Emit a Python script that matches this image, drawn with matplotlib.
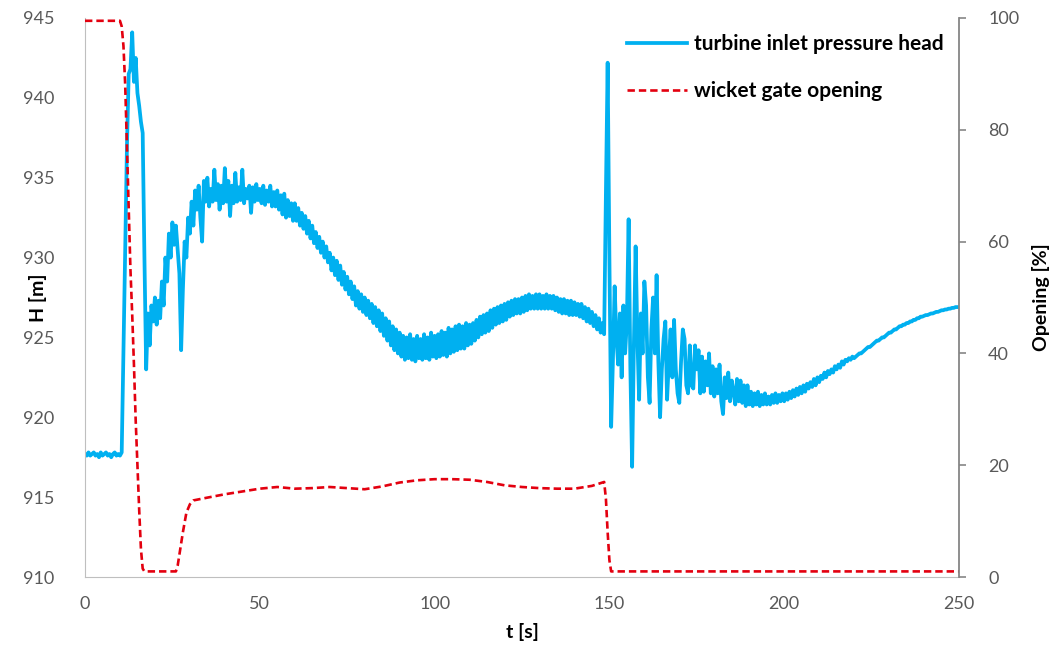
import numpy as np
import matplotlib.pyplot as plt

plt.rcParams["font.family"] = ["Lato", "DejaVu Sans"]

# turbine inlet pressure head, sampled every 0.5 s from 0 to 250 s
t_head = np.arange(0, 250.5, 0.5)
head = [
    # 0 - 9.5
    917.7, 917.6, 917.8, 917.6, 917.7, 917.8, 917.6, 917.7, 917.5, 917.8,
    917.6, 917.7, 917.8, 917.6, 917.7, 917.5, 917.7, 917.8, 917.6, 917.7,
    # 10 - 19.5
    917.6, 917.8, 924.0, 930.5, 937.0, 941.5, 941.8, 944.1, 941.0, 942.5,
    940.3, 939.5, 938.5, 937.8, 930.0, 923.0, 926.5, 924.5, 927.0, 926.0,
    # 20 - 29.5
    927.5, 925.8, 927.3, 926.2, 928.5, 927.0, 930.0, 928.5, 931.5, 930.0,
    932.2, 930.8, 932.0, 930.5, 929.0, 924.2, 928.0, 931.0, 930.0, 932.5,
    # 30 - 39.5
    931.5, 933.5, 932.0, 934.2, 933.0, 934.5, 932.5, 931.0, 934.8, 933.5,
    935.0, 933.2, 934.3, 933.5, 935.5, 933.6, 934.6, 933.0, 934.5, 933.4,
    # 40 - 49.5
    935.6, 933.5, 934.8, 932.6, 934.5, 933.4, 935.3, 933.5, 934.4, 933.6,
    935.5, 933.4, 934.3, 933.7, 934.5, 932.8, 934.4, 933.5, 934.6, 933.6,
    # 50 - 59.5
    934.3, 933.4, 934.5, 933.3, 934.2, 933.5, 934.5, 933.2, 934.1, 933.2,
    934.2, 933.0, 933.9, 932.7, 934.0, 932.5, 933.6, 932.6, 933.4, 932.3,
    # 60 - 69.5
    933.4, 932.3, 933.1, 932.0, 932.8, 931.8, 932.6, 931.5, 932.3, 931.2,
    932.0, 930.9, 931.6, 930.6, 931.3, 930.3, 931.0, 930.0, 930.7, 929.7,
    # 70 - 79.5
    930.3, 929.2, 930.0, 928.9, 929.8, 928.6, 929.5, 928.3, 929.1, 928.0,
    928.8, 927.7, 928.5, 927.4, 928.2, 927.0, 927.9, 926.8, 927.7, 926.6,
    # 80 - 89.5
    927.5, 926.4, 927.3, 926.2, 927.1, 925.9, 926.9, 925.7, 926.7, 925.4,
    926.5, 925.1, 926.2, 924.8, 926.0, 924.5, 925.7, 924.2, 925.5, 924.0,
    # 90 - 99.5
    925.3, 923.8, 925.1, 923.6, 925.0, 923.7, 925.2, 923.6, 924.9, 923.5,
    925.1, 923.7, 924.9, 923.6, 925.2, 923.7, 925.0, 923.6, 925.3, 923.8,
    # 100 - 109.5
    925.1, 923.7, 925.2, 923.8, 925.4, 923.9, 925.3, 923.8, 925.6, 924.0,
    925.5, 924.1, 925.7, 924.2, 925.8, 924.3, 925.7, 924.3, 925.9, 924.5,
    # 110 - 119.5
    925.8, 924.6, 925.9, 924.8, 926.1, 925.0, 926.3, 925.2, 926.4, 925.3,
    926.5, 925.4, 926.7, 925.6, 926.8, 925.8, 926.9, 925.9, 927.0, 926.0,
    # 120 - 129.5
    927.1, 926.1, 927.2, 926.3, 927.3, 926.4, 927.4, 926.5, 927.4, 926.5,
    927.5, 926.6, 927.6, 926.7, 927.7, 926.8, 927.6, 926.8, 927.7, 926.8,
    # 130 - 139.5
    927.7, 926.8, 927.6, 926.8, 927.7, 926.8, 927.6, 926.8, 927.6, 926.7,
    927.5, 926.6, 927.4, 926.5, 927.4, 926.5, 927.3, 926.4, 927.3, 926.4,
    # 140 - 149.5
    927.2, 926.4, 927.1, 926.3, 927.1, 926.2, 926.9, 926.0, 926.8, 925.9,
    926.6, 925.7, 926.4, 925.5, 926.2, 925.3, 925.9, 925.2, 934.0, 942.2,
    # 150 - 159.5
    930.0, 919.4, 923.5, 928.2, 925.0, 923.3, 926.5, 922.5, 927.0, 924.0,
    926.0, 932.4, 923.0, 916.9, 924.5, 930.7, 925.0, 921.1, 926.5, 924.0,
    # 160 - 169.5
    928.5, 927.0, 922.5, 920.9, 925.5, 927.5, 924.0, 928.9, 923.5, 920.0,
    923.0, 924.9, 926.0, 921.1, 923.5, 925.5, 922.5, 926.1, 923.0, 921.5,
    # 170 - 179.5
    920.9, 923.5, 925.5, 924.9, 922.0, 921.5, 924.5, 922.0, 921.8, 924.5,
    923.0, 924.2, 921.5, 923.8, 921.6, 923.5, 922.0, 924.0, 921.5, 923.2,
    # 180 - 189.5
    921.3, 923.0, 921.5, 923.3, 921.0, 920.2, 922.5, 921.2, 922.8, 921.0,
    922.3, 921.6, 920.8, 922.4, 921.0, 922.3, 920.9, 922.0, 920.7, 922.0,
    # 190 - 199.5
    920.8, 921.6, 920.7, 921.5, 920.8, 921.6, 920.7, 921.4, 920.8, 921.5,
    920.8, 921.3, 920.8, 921.4, 920.9, 921.5, 920.9, 921.4, 921.0, 921.5,
    # 200 - 209.5
    921.0, 921.5, 921.1, 921.6, 921.2, 921.7, 921.3, 921.8, 921.4, 921.9,
    921.5, 922.0, 921.6, 922.1, 921.8, 922.2, 921.9, 922.4, 922.0, 922.5,
    # 210 - 219.5
    922.2, 922.6, 922.4, 922.8, 922.5, 922.9, 922.7, 923.0, 922.8, 923.2,
    923.0, 923.3, 923.1, 923.5, 923.3, 923.6, 923.5, 923.7, 923.6, 923.8,
    # 220 - 229.5
    923.7, 923.8, 923.9, 924.0, 924.0, 924.1, 924.2, 924.3, 924.4, 924.4,
    924.5, 924.6, 924.7, 924.8, 924.8, 924.9, 925.0, 925.0, 925.1, 925.2,
    # 230 - 239.5
    925.3, 925.3, 925.4, 925.5, 925.5, 925.6, 925.7, 925.7, 925.8, 925.8,
    925.9, 925.9, 926.0, 926.0, 926.1, 926.1, 926.2, 926.2, 926.3, 926.3,
    # 240 - 250
    926.35, 926.4, 926.4, 926.45, 926.5, 926.5, 926.55, 926.6, 926.6, 926.65,
    926.7, 926.7, 926.75, 926.75, 926.8, 926.8, 926.85, 926.85, 926.9, 926.9,
    926.9,
]

# wicket gate opening [%]
t_gate = [0, 10, 10.5, 11, 11.5, 12, 12.5, 13, 13.5, 14, 14.5, 15, 15.5, 16,
          16.5, 17, 26, 26.5, 27, 28, 29, 30, 31, 35, 40, 45, 50, 55, 60, 65,
          70, 75, 80, 85, 90, 95, 100, 105, 110, 115, 120, 125, 130, 135, 140,
          145, 148.5, 149, 149.5, 150, 150.5, 250]
gate = [99.5, 99.5, 98.5, 95, 88, 77, 66, 55, 47, 38, 28, 20, 12, 5,
        1.5, 1, 1, 2, 4, 8, 11.5, 13, 13.7, 14.2, 14.8, 15.3, 15.8, 16.1, 15.8, 15.9,
        16.1, 15.9, 15.7, 16.2, 16.9, 17.3, 17.5, 17.5, 17.4, 17.0, 16.4, 16.1, 15.9, 15.8, 15.8,
        16.3, 17.0, 14, 8, 3, 1, 1]

tick_grey = "#595959"

fig = plt.figure(figsize=(10.51, 6.47), dpi=100)
ax = fig.add_axes([85 / 1051, 1 - 577 / 647, 874 / 1051, 559 / 647])
ax2 = ax.twinx()

l1, = ax.plot(t_head, head, color="#00B0F0", lw=2.7, solid_joinstyle="round",
              label="turbine inlet pressure head")
l2, = ax2.plot(t_gate, gate, color="#E3000F", lw=1.9, dashes=(2.8, 1.5),
               label="wicket gate opening")

ax.set_xlim(0, 250)
ax.set_ylim(910, 945)
ax2.set_ylim(0, 100)
ax.set_xticks(np.arange(0, 251, 50))
ax.set_yticks(np.arange(910, 946, 5))
ax2.set_yticks(np.arange(0, 101, 20))

for a in (ax, ax2):
    a.spines["top"].set_visible(False)
ax.spines["left"].set_color("#BFBFBF")
ax.spines["bottom"].set_color("#BFBFBF")
ax.spines["right"].set_visible(False)
ax2.spines["left"].set_visible(False)
ax2.spines["bottom"].set_visible(False)
ax2.spines["right"].set_color("#868686")
ax2.spines["right"].set_linewidth(1.3)

ax.tick_params(axis="both", length=0, labelsize=13, labelcolor=tick_grey)
ax.tick_params(axis="y", pad=22)
ax.tick_params(axis="x", pad=14)
ax2.tick_params(axis="y", length=5, color="#868686", width=1.2,
                labelsize=13, labelcolor=tick_grey, pad=16)

ax.set_xlabel("t [s]", fontsize=14, fontweight="bold")
ax.set_ylabel("H [m]", fontsize=14, fontweight="bold")
ax2.set_ylabel("Opening [%]", fontsize=14, fontweight="bold")
ax.xaxis.set_label_coords(0.5, -0.082)
ax.yaxis.set_label_coords(-0.0435, 0.5)
ax2.yaxis.set_label_coords(1.0835, 0.5)

leg = fig.legend(handles=[l1, l2], loc="upper left",
                 bbox_to_anchor=(627 / 1051, 1 - 34 / 647), frameon=False,
                 prop={"size": 15, "weight": "bold"}, handlelength=2.9,
                 handletextpad=0.3, labelspacing=1.3, borderpad=0,
                 borderaxespad=0)

fig.savefig("out.png", dpi=100)
